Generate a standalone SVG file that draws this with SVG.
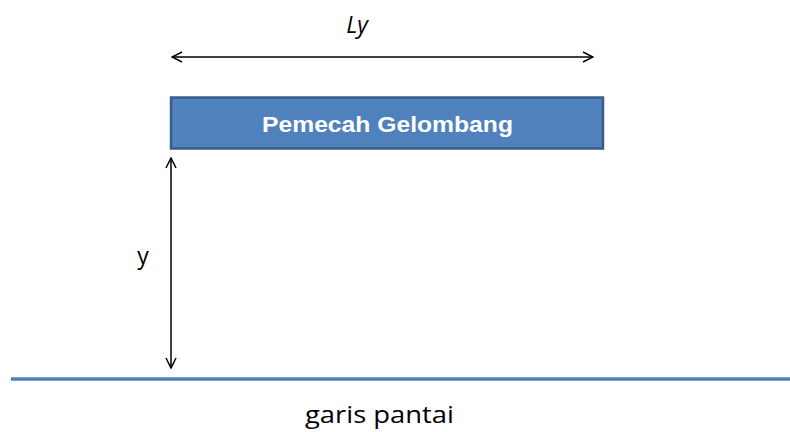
<svg xmlns="http://www.w3.org/2000/svg" width="790" height="432" viewBox="0 0 790 432">
<style>
.lbl{font-family:"Open Sans","Noto Sans","Liberation Sans",sans-serif;font-size:23px;fill:#000}
.box{fill:#4F81BD;stroke:#385D8A;stroke-width:2.5}
.boxt{font-family:"Liberation Sans",Arial,sans-serif;font-weight:bold;font-size:22px;fill:#fff}
.dim{stroke:#000;stroke-width:1.5;fill:none}
</style>
<defs>
<marker id="ah" viewBox="0 0 12 12" refX="11" refY="6" markerWidth="12" markerHeight="12" markerUnits="userSpaceOnUse" orient="auto-start-reverse">
<path d="M1,1 L11,6 L1,11" fill="none" stroke="#000" stroke-width="1.5"/>
</marker>
</defs>
<rect width="790" height="432" fill="#fff"/>
<g id="connectors">
<line class="dim" x1="172" y1="57" x2="593" y2="57" marker-start="url(#ah)" marker-end="url(#ah)"/>
<line class="dim" x1="171" y1="158" x2="171" y2="368" marker-start="url(#ah)" marker-end="url(#ah)"/>
</g>
<g id="pemecah">
<rect class="box" x="171" y="97.5" width="432" height="51"/>
<text class="boxt" x="387.5" y="132" text-anchor="middle" textLength="251" lengthAdjust="spacingAndGlyphs">Pemecah Gelombang</text>
</g>
<g id="garis">
<line x1="11" y1="379" x2="790" y2="379" stroke="#4F81BD" stroke-width="3.5"/>
<text class="lbl" x="379.5" y="423" text-anchor="middle" textLength="149" lengthAdjust="spacingAndGlyphs">garis pantai</text>
</g>
<text class="lbl" x="357" y="33" font-style="italic" font-size="25" text-anchor="middle">Ly</text>
<text class="lbl" x="143" y="264" text-anchor="middle">y</text>
</svg>
